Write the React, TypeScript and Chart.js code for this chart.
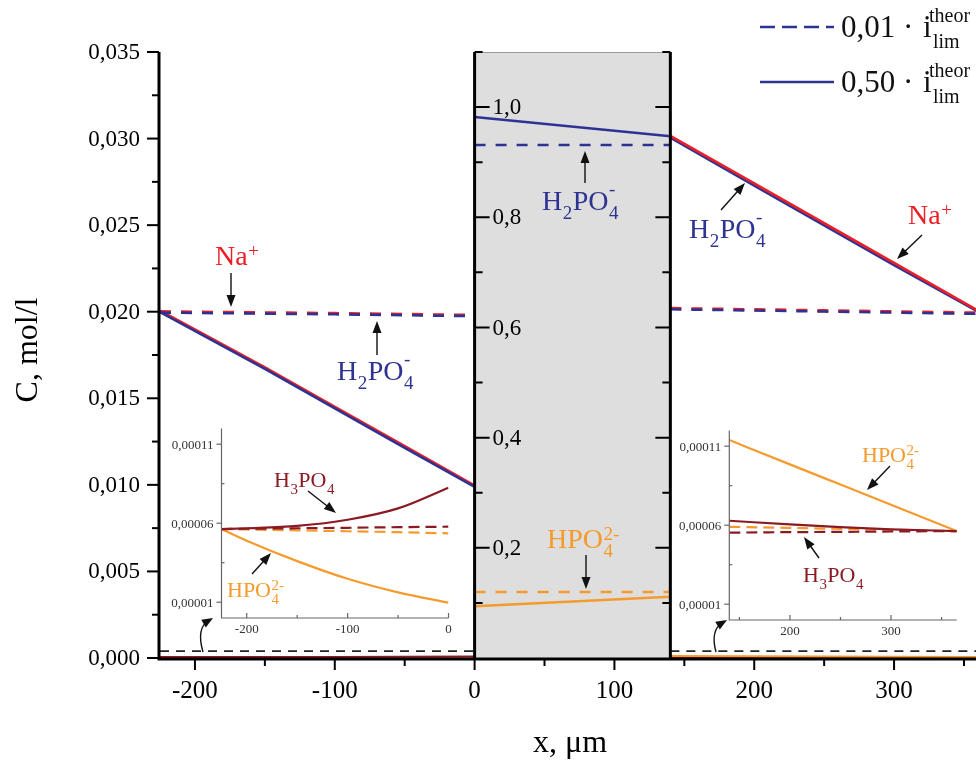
import React, { useEffect, useRef } from "react";
import { Chart, registerables } from "chart.js";
Chart.register(...registerables);

const BLUE = "#2e3393";
const RED = "#ec1f27";
const ORANGE = "#f59b2d";
const DARKRED = "#8b1a24";
const PANEL_GRAY = "#dedede";
const FONT = '"Liberation Serif", "Times New Roman", serif';

// ---------- axes ----------
const X_MIN = -225;
const X_MAX = 358.6;
const MEMBRANE = [0, 140];
const Y_MAX = 0.035;
const Y2_MAX = 1.1;
const yMainTicks = [0, 0.005, 0.01, 0.015, 0.02, 0.025, 0.03, 0.035];
const xMainTicks = [-200, -100, 0, 100, 200, 300];
const y2Ticks = [0.2, 0.4, 0.6, 0.8, 1.0];
const insetYTicks = [0.00001, 0.00006, 0.00011];
const insetLeftXTicks = [-200, -100, 0];
const insetRightXTicks = [200, 300];

// ---------- main data (mol/l) ----------
const leftX = [-225, -150, -100, -50, 0];
const midX = [0, 140];
const rightX = [140, 200, 250, 300, 365];

// 0.01 i_lim (dashed)
const naLowLeft = [0.02, 0.01994, 0.0199, 0.01985, 0.01979];
const h2po4LowLeft = [0.01995, 0.01989, 0.01985, 0.0198, 0.01974];
const naLowRight = [0.02019, 0.02012, 0.02006, 0.02, 0.01992];
const h2po4LowRight = [0.02014, 0.02007, 0.02001, 0.01995, 0.01987];
// 0.50 i_lim (solid)
const naHighLeft = [0.02005, 0.01678, 0.0145, 0.01222, 0.00995];
const h2po4HighLeft = [0.01998, 0.0167, 0.01442, 0.01214, 0.00988];
const naHighRight = [0.03015, 0.02741, 0.02511, 0.02282, 0.01984];
const h2po4HighRight = [0.03005, 0.02728, 0.02498, 0.02269, 0.01978];

// membrane (right-hand scale)
const h2po4LowMid = [0.931, 0.931];
const h2po4HighMid = [0.982, 0.947];
const hpo4LowMid = [0.12, 0.12];
const hpo4HighMid = [0.094, 0.111];

// zoom marker line
const markerLeftX = [-225, 0];
const markerRightX = [140, 365];
const markerValues = [0.0004, 0.0004];

// ---------- inset data (mol/l) ----------
const insetLeftX = [-225, -200, -150, -100, -50, 0];
const h3po4HighLeft = [5.63e-5, 5.68e-5, 5.83e-5, 6.22e-5, 6.94e-5, 8.25e-5];
const h3po4LowLeft = [5.63e-5, 5.65e-5, 5.68e-5, 5.71e-5, 5.75e-5, 5.78e-5];
const hpo4LowLeft = [5.63e-5, 5.6e-5, 5.55e-5, 5.49e-5, 5.43e-5, 5.36e-5];
const hpo4HighLeft = [5.63e-5, 4.89e-5, 3.6e-5, 2.48e-5, 1.62e-5, 0.97e-5];

const insetRightX = [140, 200, 250, 300, 365];
const hpo4HighRight = [11.39e-5, 9.85e-5, 8.57e-5, 7.29e-5, 5.63e-5];
const h3po4HighRight = [6.28e-5, 6.05e-5, 5.88e-5, 5.74e-5, 5.63e-5];
const hpo4LowRight = [5.9e-5, 5.83e-5, 5.77e-5, 5.71e-5, 5.63e-5];
const h3po4LowRight = [5.53e-5, 5.56e-5, 5.58e-5, 5.6e-5, 5.63e-5];

// ---------- helpers ----------
type Seg = { t: string; sub?: string; sup?: string };
const NA: Seg[] = [{ t: "Na", sup: "+" }];
const H2PO4: Seg[] = [{ t: "H", sub: "2" }, { t: "PO", sub: "4", sup: "-" }];
const HPO4: Seg[] = [{ t: "HPO", sub: "4", sup: "2-" }];
const H3PO4: Seg[] = [{ t: "H", sub: "3" }, { t: "PO", sub: "4" }];

function drawFormula(ctx: CanvasRenderingContext2D, segs: Seg[], x: number, y: number, size: number, color: string) {
  ctx.save();
  ctx.fillStyle = color;
  ctx.textBaseline = "alphabetic";
  ctx.textAlign = "left";
  let cx = x;
  const small = size * 0.68;
  for (const s of segs) {
    ctx.font = `${size}px ${FONT}`;
    ctx.fillText(s.t, cx, y);
    cx += ctx.measureText(s.t).width;
    ctx.font = `${small}px ${FONT}`;
    let w = 0;
    if (s.sub) {
      ctx.fillText(s.sub, cx + 0.5, y + size * 0.33);
      w = Math.max(w, ctx.measureText(s.sub).width);
    }
    if (s.sup) {
      const dy = s.sup === "-" ? size * 0.52 : size * 0.3;
      ctx.fillText(s.sup, cx + 0.5, y - dy);
      w = Math.max(w, ctx.measureText(s.sup).width);
    }
    cx += w ? w + 1 : 0;
  }
  ctx.restore();
}

function arrowHead(ctx: CanvasRenderingContext2D, fx: number, fy: number, x2: number, y2: number, head = 12, hw = 4.5) {
  const a = Math.atan2(y2 - fy, x2 - fx);
  const c = Math.cos(a), s = Math.sin(a);
  ctx.beginPath();
  ctx.moveTo(x2, y2);
  ctx.lineTo(x2 - head * c + hw * s, y2 - head * s - hw * c);
  ctx.lineTo(x2 - head * c - hw * s, y2 - head * s + hw * c);
  ctx.closePath();
  ctx.fill();
}

function arrow(ctx: CanvasRenderingContext2D, x1: number, y1: number, x2: number, y2: number) {
  const a = Math.atan2(y2 - y1, x2 - x1);
  ctx.save();
  ctx.strokeStyle = "#111";
  ctx.fillStyle = "#111";
  ctx.lineWidth = 1.4;
  ctx.beginPath();
  ctx.moveTo(x1, y1);
  ctx.lineTo(x2 - Math.cos(a) * 8, y2 - Math.sin(a) * 8);
  ctx.stroke();
  arrowHead(ctx, x1, y1, x2, y2);
  ctx.restore();
}

function curvedArrow(ctx: CanvasRenderingContext2D, x1: number, y1: number, cx: number, cy: number, x2: number, y2: number) {
  ctx.save();
  ctx.strokeStyle = "#111";
  ctx.fillStyle = "#111";
  ctx.lineWidth = 1.4;
  ctx.beginPath();
  ctx.moveTo(x1, y1);
  ctx.quadraticCurveTo(cx, cy, x2 - (x2 - cx) * 0.25, y2 - (y2 - cy) * 0.25);
  ctx.stroke();
  arrowHead(ctx, cx, cy, x2, y2, 11, 4.5);
  ctx.restore();
}

const pts = (xs: number[], ys: number[]) => xs.map((x, i) => ({ x, y: ys[i] }));

function line(label: string, xs: number[], ys: number[], color: string, width: number, dash: number[], order: number, yAxisID = "y", smooth = false) {
  return {
    label,
    data: pts(xs, ys),
    borderColor: color,
    backgroundColor: color,
    borderWidth: width,
    borderDash: dash,
    pointRadius: 0,
    fill: false,
    order,
    yAxisID,
    cubicInterpolationMode: smooth ? ("monotone" as const) : ("default" as const),
    tension: 0,
  };
}

const DASH = [11, 10];
const IDASH = [11, 6];

// ---------- main decorations ----------
const mainDecor = {
  id: "mainDecor",
  beforeDatasetsDraw(chart: any) {
    const { ctx, chartArea, scales } = chart;
    const x0 = scales.x.getPixelForValue(MEMBRANE[0]);
    const x1 = scales.x.getPixelForValue(MEMBRANE[1]);
    ctx.save();
    ctx.fillStyle = PANEL_GRAY;
    ctx.fillRect(x0, chartArea.top, x1 - x0, chartArea.bottom - chartArea.top);
    ctx.strokeStyle = "#9a9a9a";
    ctx.lineWidth = 1;
    ctx.beginPath();
    ctx.moveTo(x0, chartArea.top + 0.5);
    ctx.lineTo(x1, chartArea.top + 0.5);
    ctx.stroke();
    ctx.restore();
  },
  afterDatasetsDraw(chart: any) {
    const { ctx, chartArea, scales } = chart;
    const xs = scales.x, ys = scales.y, y2 = scales.y2;
    const L = chartArea.left - 1;
    const B = chartArea.bottom + 1;
    const T = chartArea.top;
    const R = chartArea.right;
    const xm0 = xs.getPixelForValue(MEMBRANE[0]);
    const xm1 = xs.getPixelForValue(MEMBRANE[1]);
    ctx.save();
    ctx.strokeStyle = "#000";
    ctx.fillStyle = "#000";
    // axis lines
    ctx.lineWidth = 3;
    ctx.beginPath();
    ctx.moveTo(L, T);
    ctx.lineTo(L, B);
    ctx.moveTo(L - 1.5, B);
    ctx.lineTo(R, B);
    ctx.moveTo(xm0, T);
    ctx.lineTo(xm0, B);
    ctx.moveTo(xm1, T);
    ctx.lineTo(xm1, B);
    ctx.stroke();

    // main y ticks
    ctx.lineWidth = 2;
    for (let v = 0; v <= Y_MAX + 1e-9; v += 0.0025) {
      const p = ys.getPixelForValue(v);
      const major = Math.abs(v / 0.005 - Math.round(v / 0.005)) < 1e-6;
      ctx.beginPath();
      ctx.moveTo(L - (major ? 12 : 7), p);
      ctx.lineTo(L, p);
      ctx.stroke();
    }
    ctx.font = `23px ${FONT}`;
    ctx.textAlign = "right";
    ctx.textBaseline = "middle";
    for (const v of yMainTicks) {
      ctx.fillText(v.toFixed(3).replace(".", ","), L - 19, ys.getPixelForValue(v) + 1);
    }
    // x ticks
    for (let v = -200; v <= 350; v += 50) {
      const p = xs.getPixelForValue(v);
      const major = v % 100 === 0;
      ctx.beginPath();
      ctx.moveTo(p, B);
      ctx.lineTo(p, B + (major ? 11 : 7));
      ctx.stroke();
    }
    ctx.font = `25px ${FONT}`;
    ctx.textAlign = "center";
    ctx.textBaseline = "middle";
    for (const v of xMainTicks) {
      ctx.fillText(String(v), xs.getPixelForValue(v), 691);
    }
    // membrane ticks (right-hand scale, inward on both borders)
    for (let k = 1; k <= 11; k++) {
      const v = k / 10;
      const p = y2.getPixelForValue(v);
      const len = k % 2 === 0 ? 15 : 8;
      ctx.beginPath();
      ctx.moveTo(xm0, p);
      ctx.lineTo(xm0 + len, p);
      ctx.moveTo(xm1, p);
      ctx.lineTo(xm1 - len, p);
      ctx.stroke();
    }
    ctx.font = `23px ${FONT}`;
    ctx.textAlign = "left";
    ctx.textBaseline = "middle";
    for (const v of y2Ticks) {
      ctx.fillText(v.toFixed(1).replace(".", ","), xm0 + 18, y2.getPixelForValue(v) + 1);
    }

    // axis titles
    ctx.font = `32px ${FONT}`;
    ctx.textAlign = "center";
    ctx.textBaseline = "alphabetic";
    ctx.fillText("x, \u03bcm", (chartArea.left + chartArea.right) / 2 + 2, 752);
    ctx.save();
    ctx.translate(37, 350);
    ctx.rotate(-Math.PI / 2);
    ctx.fillText("C, mol/l", 0, 0);
    ctx.restore();

    // legend
    const legendRows = [
      { text: "0,01", dash: [15, 7], y: 27 },
      { text: "0,50", dash: [], y: 82 },
    ];
    for (const r of legendRows) {
      ctx.save();
      ctx.strokeStyle = BLUE;
      ctx.lineWidth = 2.5;
      ctx.setLineDash(r.dash);
      ctx.beginPath();
      ctx.moveTo(760, r.y);
      ctx.lineTo(834, r.y);
      ctx.stroke();
      ctx.restore();
      ctx.fillStyle = "#111";
      ctx.textAlign = "left";
      ctx.textBaseline = "alphabetic";
      ctx.font = `31px ${FONT}`;
      ctx.fillText(r.text, 841, r.y + 10);
      ctx.fillText("\u00b7", 903, r.y + 10);
      ctx.fillText("i", 923, r.y + 10);
      ctx.font = `20px ${FONT}`;
      ctx.fillText("theor", 929, r.y - 5);
      ctx.fillText("lim", 933, r.y + 21);
    }

    // species labels
    drawFormula(ctx, NA, 215, 265, 28, RED);
    drawFormula(ctx, H2PO4, 337, 380, 28, BLUE);
    drawFormula(ctx, H2PO4, 542, 210, 28, BLUE);
    drawFormula(ctx, HPO4, 547, 548, 28, ORANGE);
    drawFormula(ctx, H2PO4, 689, 238, 28, BLUE);
    drawFormula(ctx, NA, 908, 224, 28, RED);

    arrow(ctx, 231, 273, 231, 307);
    arrow(ctx, 377, 355, 377, 321);
    arrow(ctx, 585, 183, 585, 151);
    arrow(ctx, 586, 555, 586, 589);
    arrow(ctx, 721, 210, 745, 183);
    arrow(ctx, 922, 235, 897, 259);

    curvedArrow(ctx, 203, 652, 196, 628, 213, 618);
    curvedArrow(ctx, 716, 652, 710, 630, 727, 620);
    ctx.restore();
  },
};

// ---------- inset decorations ----------
function insetDecor(opts: {
  ox: number;
  oy: number;
  xMajor: number[];
  xMinor: number[];
  labels: { segs: Seg[]; x: number; y: number; color: string }[];
  arrows: number[][];
}) {
  return {
    id: "insetDecor",
    afterDatasetsDraw(chart: any) {
      const { ctx, chartArea, scales } = chart;
      const xs = scales.x, ys = scales.y;
      const L = chartArea.left, B = chartArea.bottom, T = chartArea.top, R = chartArea.right;
      ctx.save();
      ctx.strokeStyle = "#666";
      ctx.fillStyle = "#333";
      ctx.lineWidth = 1.2;
      ctx.beginPath();
      ctx.moveTo(L, T);
      ctx.lineTo(L, B);
      ctx.lineTo(R, B);
      ctx.stroke();
      for (const v of insetYTicks) {
        const p = ys.getPixelForValue(v);
        ctx.beginPath();
        ctx.moveTo(L - 5, p);
        ctx.lineTo(L, p);
        ctx.stroke();
      }
      for (const v of [0.000035, 0.000085]) {
        const p = ys.getPixelForValue(v);
        ctx.beginPath();
        ctx.moveTo(L, p);
        ctx.lineTo(L + 3, p);
        ctx.stroke();
      }
      for (const v of opts.xMajor) {
        const p = xs.getPixelForValue(v);
        ctx.beginPath();
        ctx.moveTo(p, B);
        ctx.lineTo(p, B - 5);
        ctx.stroke();
      }
      for (const v of opts.xMinor) {
        const p = xs.getPixelForValue(v);
        ctx.beginPath();
        ctx.moveTo(p, B);
        ctx.lineTo(p, B - 3);
        ctx.stroke();
      }
      ctx.font = `13px ${FONT}`;
      ctx.textAlign = "right";
      ctx.textBaseline = "middle";
      for (const v of insetYTicks) {
        ctx.fillText(v.toFixed(5).replace(".", ","), L - 8, ys.getPixelForValue(v) + 1);
      }
      ctx.textAlign = "center";
      for (const v of opts.xMajor) {
        ctx.fillText(String(v), xs.getPixelForValue(v), B + 12);
      }
      for (const l of opts.labels) {
        drawFormula(ctx, l.segs, l.x - opts.ox, l.y - opts.oy, 22, l.color);
      }
      for (const a of opts.arrows) {
        arrow(ctx, a[0] - opts.ox, a[1] - opts.oy, a[2] - opts.ox, a[3] - opts.oy);
      }
      ctx.restore();
    },
  };
}

function insetConfig(xMin: number, xMax: number, series: any[], pad: any, decor: any): any {
  return {
    type: "line",
    data: { datasets: series },
    options: {
      animation: false,
      responsive: false,
      devicePixelRatio: 1,
      layout: { padding: pad },
      plugins: { legend: { display: false }, tooltip: { enabled: false } },
      scales: {
        x: { type: "linear", min: xMin, max: xMax, display: false },
        y: { type: "linear", min: 0, max: 0.00012, display: false },
      },
    },
    plugins: [decor],
  };
}

export default function App() {
  const mainRef = useRef<HTMLCanvasElement>(null);
  const leftRef = useRef<HTMLCanvasElement>(null);
  const rightRef = useRef<HTMLCanvasElement>(null);

  useEffect(() => {
    const charts: Chart[] = [];
    const mainDatasets = [
      // left diffusion layer
      line("Na+ 0.50", leftX, naHighLeft, RED, 3, [], 6),
      line("H2PO4- 0.50", leftX, h2po4HighLeft, BLUE, 2.5, [], 5),
      line("Na+ 0.01", leftX, naLowLeft, RED, 3.2, DASH, 6),
      line("H2PO4- 0.01", leftX, h2po4LowLeft, BLUE, 2.6, DASH, 5),
      // right diffusion layer
      line("Na+ 0.50 R", rightX, naHighRight, RED, 2.6, [], 5),
      line("H2PO4- 0.50 R", rightX, h2po4HighRight, BLUE, 2.6, [], 6),
      line("Na+ 0.01 R", rightX, naLowRight, RED, 3.2, DASH, 6),
      line("H2PO4- 0.01 R", rightX, h2po4LowRight, BLUE, 2.6, DASH, 5),
      // membrane
      line("H2PO4- mem 0.50", midX, h2po4HighMid, BLUE, 2.5, [], 4, "y2"),
      line("H2PO4- mem 0.01", midX, h2po4LowMid, BLUE, 2.5, DASH, 4, "y2"),
      line("HPO4 mem 0.50", midX, hpo4HighMid, ORANGE, 2.5, [], 4, "y2"),
      line("HPO4 mem 0.01", midX, hpo4LowMid, ORANGE, 2.5, DASH, 4, "y2"),
      // minor species on main scale (near zero)
      line("HPO4 L", insetLeftX, hpo4HighLeft, ORANGE, 2, [], 8),
      line("H3PO4 L", insetLeftX, h3po4HighLeft, DARKRED, 2, [], 7),
      line("HPO4 R", insetRightX, hpo4HighRight, ORANGE, 2, [], 7),
      line("H3PO4 R", insetRightX, h3po4HighRight, DARKRED, 2, [], 8),
      // zoom marker
      line("marker L", markerLeftX, markerValues, "#222", 1.8, [9, 7], 3),
      line("marker R", markerRightX, markerValues, "#222", 1.8, [9, 7], 3),
    ];
    charts.push(
      new Chart(mainRef.current as HTMLCanvasElement, {
        type: "line",
        data: { datasets: mainDatasets as any },
        options: {
          animation: false,
          responsive: false,
          devicePixelRatio: 1,
          layout: { padding: { left: 160, top: 52, right: 0, bottom: 106 } },
          plugins: { legend: { display: false }, tooltip: { enabled: false } },
          scales: {
            x: { type: "linear", min: X_MIN, max: X_MAX, display: false },
            y: { type: "linear", min: 0, max: Y_MAX, display: false },
            y2: { type: "linear", min: 0, max: Y2_MAX, display: false },
          },
        },
        plugins: [mainDecor],
      } as any)
    );

    const leftSeries = [
      line("H3PO4 0.50", insetLeftX, h3po4HighLeft, DARKRED, 2.2, [], 2, "y", true),
      line("H3PO4 0.01", insetLeftX, h3po4LowLeft, DARKRED, 2.2, IDASH, 1, "y", true),
      line("HPO4 0.01", insetLeftX, hpo4LowLeft, ORANGE, 2.2, IDASH, 3, "y", true),
      line("HPO4 0.50", insetLeftX, hpo4HighLeft, ORANGE, 2.2, [], 4, "y", true),
    ];
    charts.push(
      new Chart(
        leftRef.current as HTMLCanvasElement,
        insetConfig(-225, 0, leftSeries, { left: 71.5, right: 11.5, top: 8.4, bottom: 32 },
          insetDecor({
            ox: 150,
            oy: 420,
            xMajor: insetLeftXTicks,
            xMinor: [-150, -50],
            labels: [
              { segs: H3PO4, x: 274, y: 487, color: DARKRED },
              { segs: HPO4, x: 227, y: 597, color: ORANGE },
            ],
            arrows: [
              [308, 491, 336, 513],
              [252, 574, 271, 553],
            ],
          }))
      )
    );

    const rightSeries = [
      line("HPO4 0.50", insetRightX, hpo4HighRight, ORANGE, 2.2, [], 4, "y", true),
      line("H3PO4 0.50", insetRightX, h3po4HighRight, DARKRED, 2.2, [], 1, "y", true),
      line("HPO4 0.01", insetRightX, hpo4LowRight, ORANGE, 2.2, IDASH, 3, "y", true),
      line("H3PO4 0.01", insetRightX, h3po4LowRight, DARKRED, 2.2, IDASH, 2, "y", true),
    ];
    charts.push(
      new Chart(
        rightRef.current as HTMLCanvasElement,
        insetConfig(140, 365, rightSeries, { left: 69.3, right: 19.3, top: 10.4, bottom: 30 },
          insetDecor({
            ox: 660,
            oy: 420,
            xMajor: insetRightXTicks,
            xMinor: [150, 250, 350],
            labels: [
              { segs: HPO4, x: 862, y: 462, color: ORANGE },
              { segs: H3PO4, x: 803, y: 582, color: DARKRED },
            ],
            arrows: [
              [890, 466, 867, 490],
              [819, 558, 804, 537],
            ],
          }))
      )
    );

    return () => charts.forEach((c) => c.destroy());
  }, []);

  return (
    <div style={{ position: "absolute", left: 0, top: 0, width: 976, height: 764, background: "#fff", overflow: "hidden" }}>
      <canvas ref={mainRef} width={976} height={764} style={{ position: "absolute", left: 0, top: 0, width: 976, height: 764 }} />
      <canvas ref={leftRef} width={310} height={230} style={{ position: "absolute", left: 150, top: 420, width: 310, height: 230 }} />
      <canvas ref={rightRef} width={316} height={230} style={{ position: "absolute", left: 660, top: 420, width: 316, height: 230 }} />
    </div>
  );
}
